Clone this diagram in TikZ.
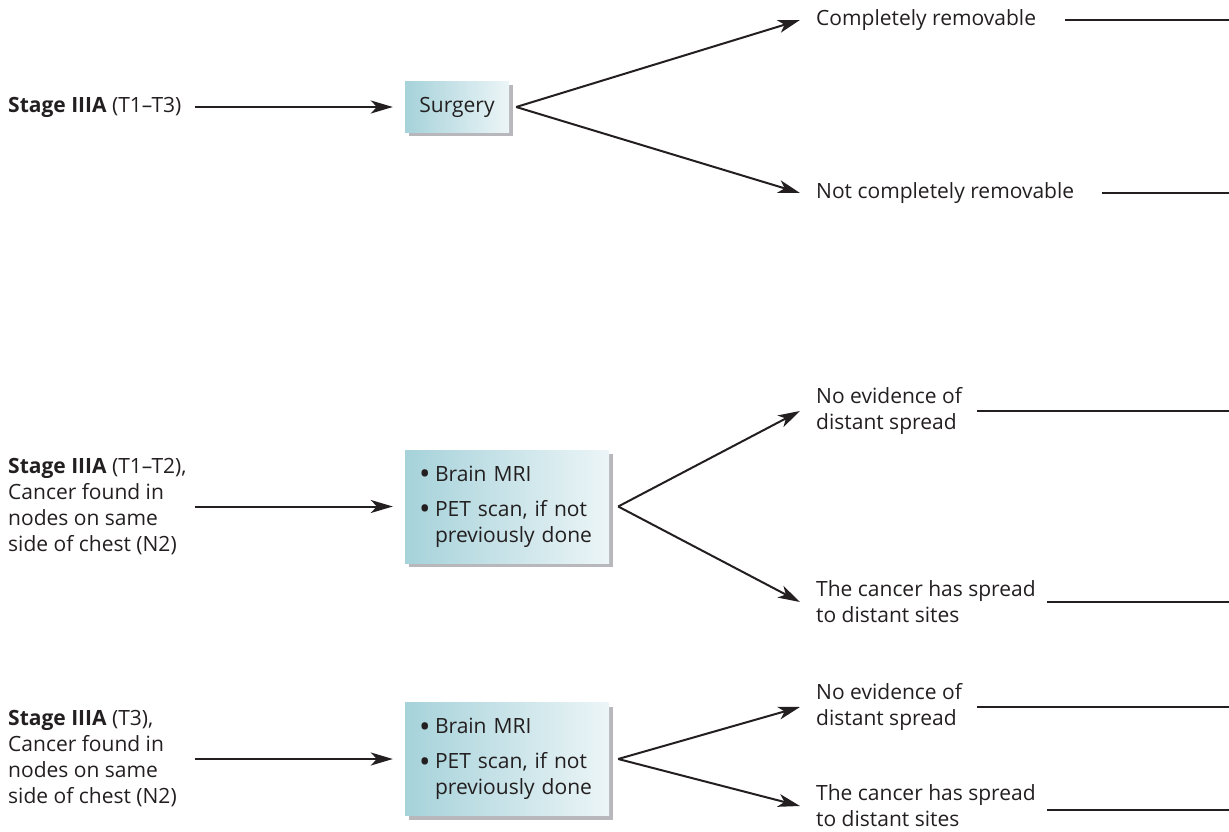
\documentclass[tikz,border=0pt]{standalone}
\usepackage{fontspec}
\setmainfont{Open Sans}
\usetikzlibrary{arrows.meta,calc,shadows}
\definecolor{ink}{RGB}{35,31,32}
\definecolor{boxL}{RGB}{166,210,218}
\definecolor{boxR}{RGB}{236,245,247}
\definecolor{boxshade}{RGB}{184,184,188}
% bullet with a fixed hanging width
\newcommand{\bul}{\makebox[16pt][l]{\raisebox{-3.8pt}{\scalebox{1.45}{•}}}}
\begin{document}
\begin{tikzpicture}[x=1pt,y=-1pt,
  every node/.style={font=\fontsize{21}{26}\selectfont, text=ink, inner sep=0pt},
  lefttext/.style={anchor=west, align=left},
  righttext/.style={anchor=west, align=left},
  stepbox/.style={left color=boxL, right color=boxR,
    general shadow={fill=boxshade, shadow xshift=4pt, shadow yshift=-4pt}},
  listbox/.style={stepbox, text width=176pt, inner xsep=14pt, inner ysep=0pt,
    minimum height=113pt, align=left},
  link/.style={draw=ink, line width=2pt,
    -{Stealth[length=22pt,width=13pt,inset=6pt]}},
  tailline/.style={draw=ink, line width=2pt}]
\useasboundingbox (0,0) rectangle (1229,832);

\coordinate (ax) at (195,0);
\coordinate (edge) at (1229,0);

% Stage IIIA (T1-T3): surgery
\node[lefttext] (L1) at (8,107) {\textbf{Stage IIIA} (T1–T3)};
\node[stepbox, minimum width=104pt, minimum height=51pt] (S1) at (457,107) {Surgery};
\node[righttext] (R1) at (816,20) {Completely removable};
\node[righttext] (R2) at (816,193) {Not completely removable};

\draw[link] (L1.east -| ax) -- ([xshift=-12pt]S1.west);
\draw[link] ([xshift=7pt]S1.east) -- ([xshift=-16pt]R1.west);
\draw[link] ([xshift=7pt]S1.east) -- ([xshift=-16pt]R2.west);
\draw[tailline] ([xshift=29pt]R1.east) -- (R1.east -| edge);
\draw[tailline] ([xshift=28pt]R2.east) -- (R2.east -| edge);

% Stage IIIA (T1-T2), N2
\node[lefttext] (L2) at (8,506.5) {\textbf{Stage IIIA} (T1–T2),\\Cancer found in\\nodes on same\\side of chest (N2)};
\node[listbox] (B2) at (507,506.5) {\bul Brain MRI\\[9pt]\bul PET scan, if not\\\hspace*{16pt}previously done};
\node[righttext] (R3) at (816,411) {No evidence of\\distant spread};
\node[righttext] (R4) at (816,602) {The cancer has spread\\to distant sites};

\draw[link] (L2.east -| ax) -- ([xshift=-12pt]B2.west);
\draw[link] ([xshift=9pt]B2.east) -- ([xshift=-16pt]R3.west);
\draw[link] ([xshift=9pt]B2.east) -- ([xshift=-16pt]R4.west);
\draw[tailline] ([xshift=15pt]R3.east) -- (R3.east -| edge);
\draw[tailline] ([xshift=11pt]R4.east) -- (R4.east -| edge);

% Stage IIIA (T3), N2
\node[lefttext] (L3) at (8,759) {\textbf{Stage IIIA} (T3),\\Cancer found in\\nodes on same\\side of chest (N2)};
\node[listbox] (B3) at (507,759) {\bul Brain MRI\\[9pt]\bul PET scan, if not\\\hspace*{16pt}previously done};
\node[righttext] (R5) at (816,707) {No evidence of\\distant spread};
\node[righttext] (R6) at (816,806) {The cancer has spread\\to distant sites};

\draw[link] (L3.east -| ax) -- ([xshift=-12pt]B3.west);
\draw[link] ([xshift=9pt]B3.east) -- ([xshift=-16pt]R5.west);
\draw[link] ([xshift=9pt]B3.east) -- ([xshift=-16pt]R6.west);
\draw[tailline] ([xshift=15pt]R5.east) -- (R5.east -| edge);
\draw[tailline] ([xshift=11pt,yshift=-4pt]R6.east) -- ([yshift=-4pt]R6.east -| edge);
\end{tikzpicture}
\end{document}
